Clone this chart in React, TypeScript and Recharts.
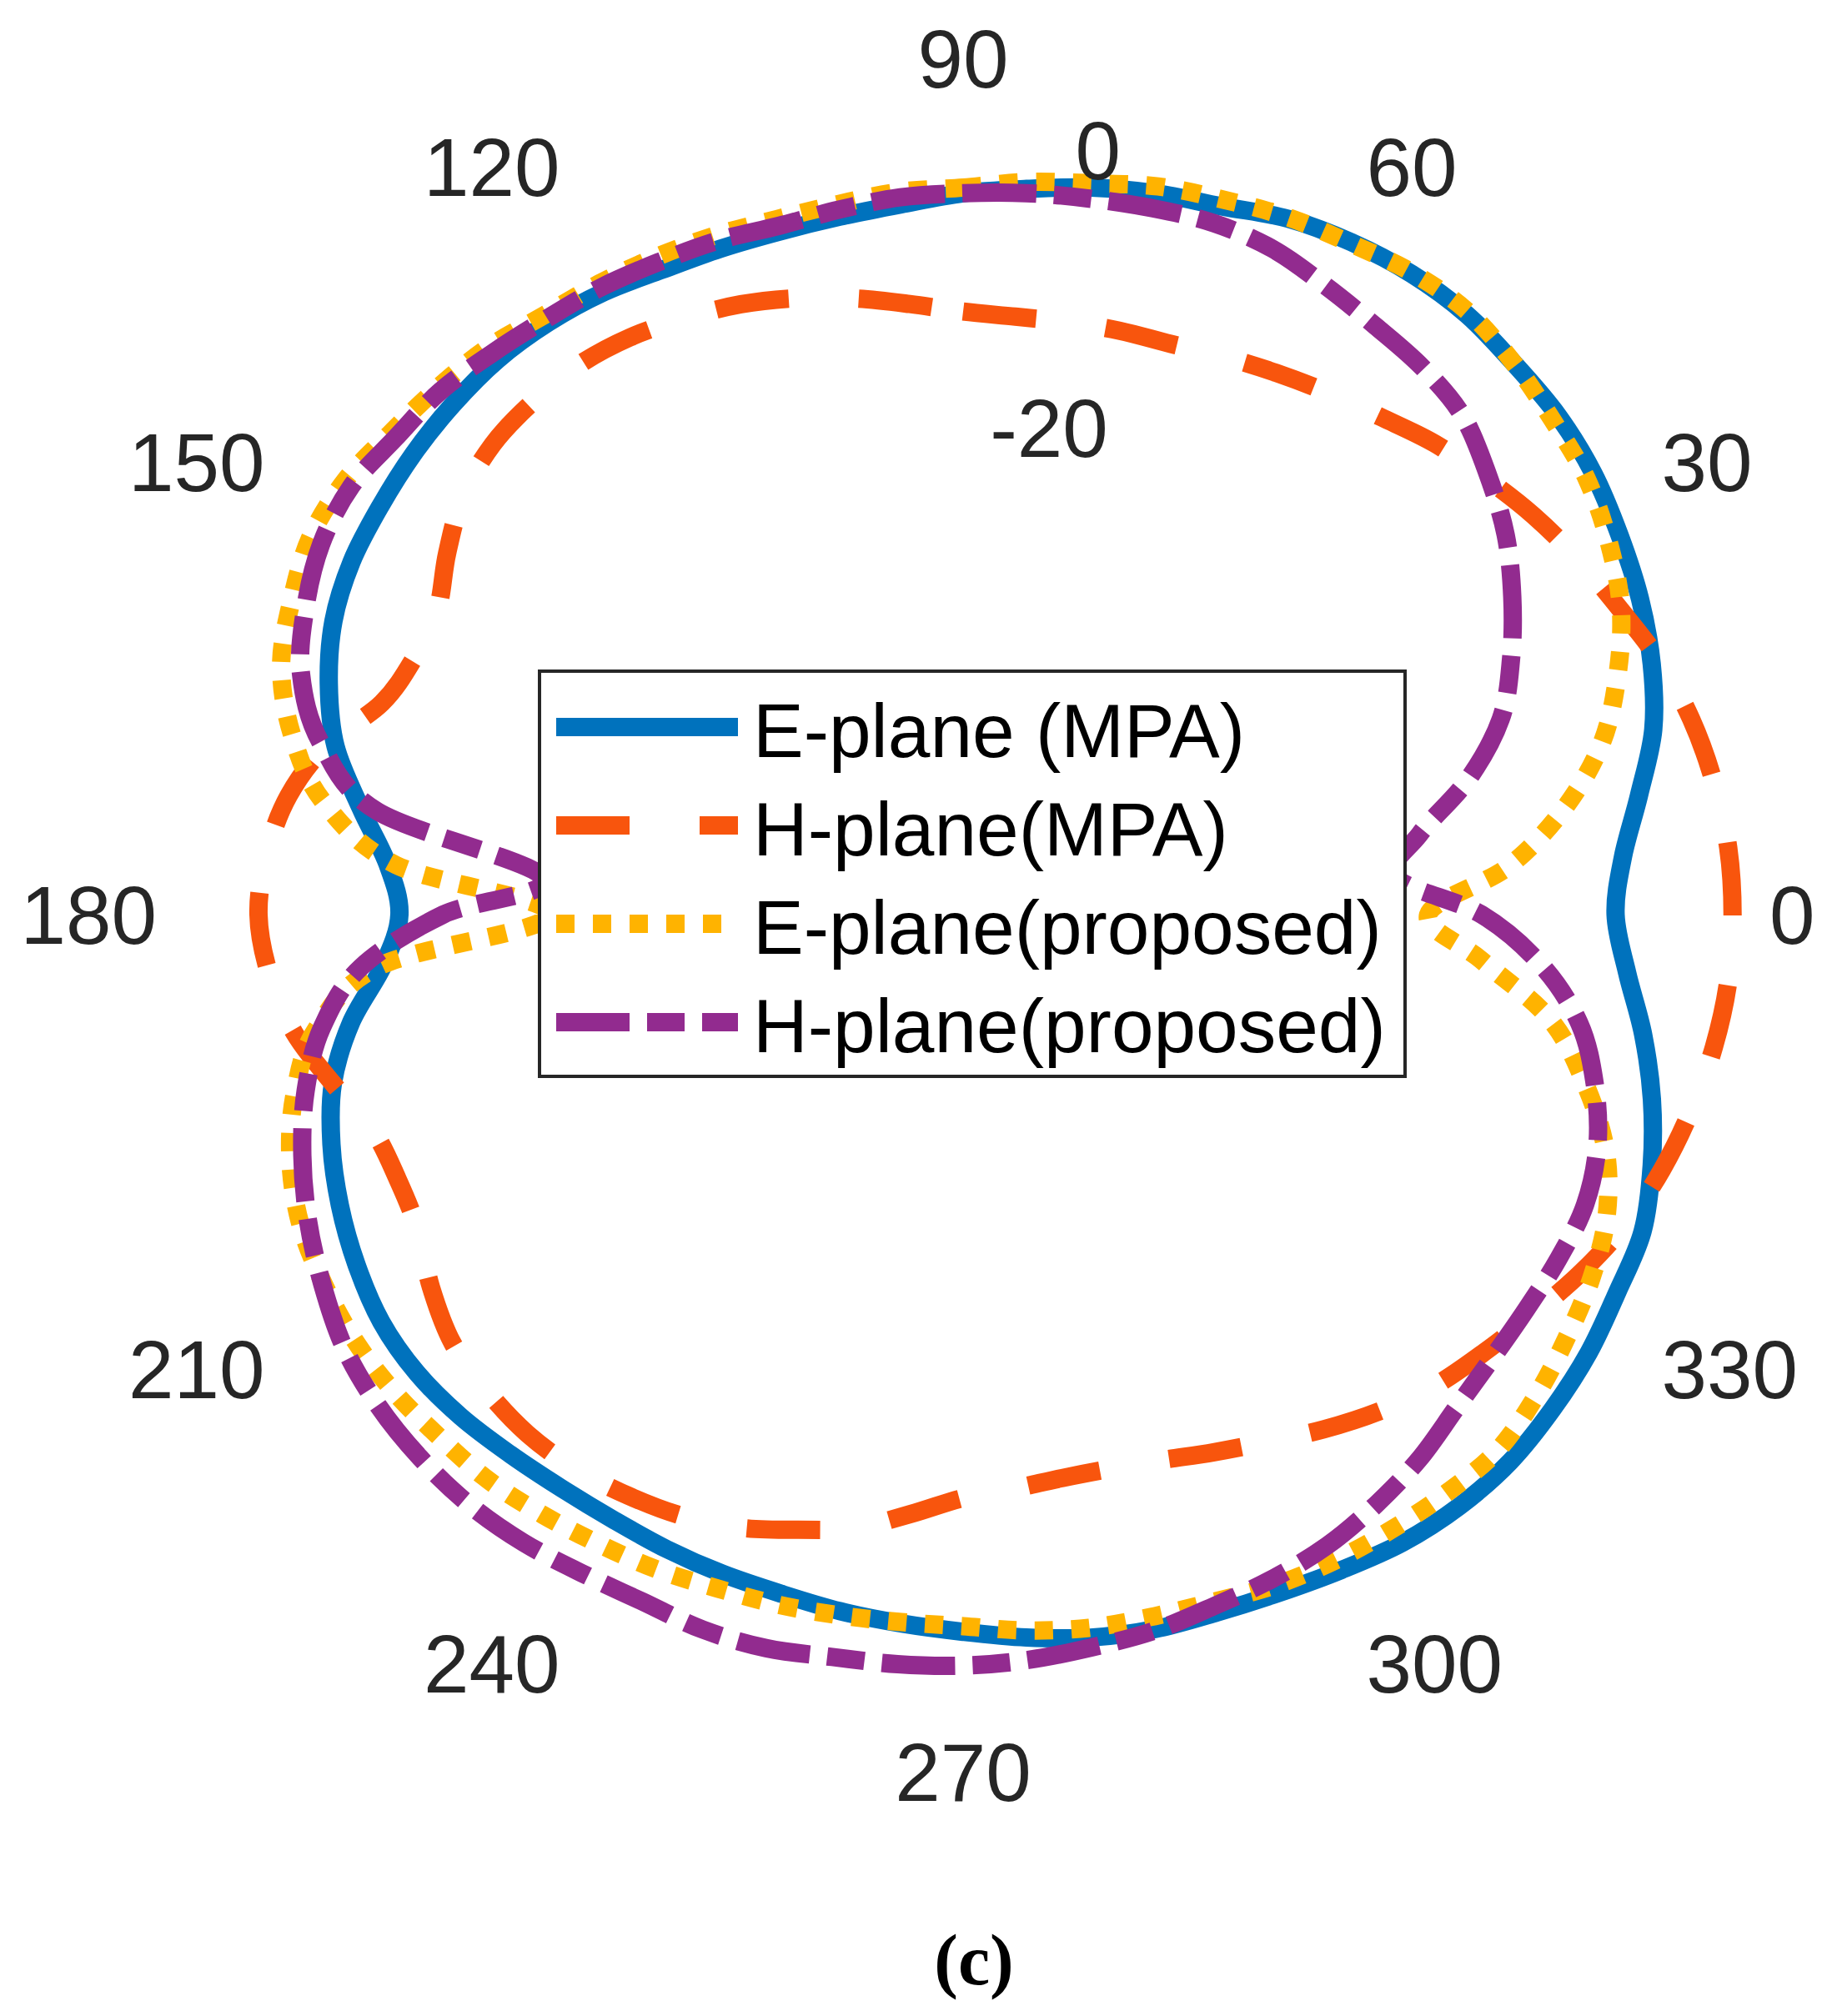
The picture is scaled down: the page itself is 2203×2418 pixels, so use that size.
import React from 'react';
import { RadarChart, Radar, PolarAngleAxis, PolarRadiusAxis, Legend } from 'recharts';

// ---------- data (gain in dB, sampled every 5 degrees, 0 deg = right, counter-clockwise) ----------
const angles = [
  0, 5, 10, 15, 20, 25, 30, 35, 40, 45, 50, 55,
  60, 65, 70, 75, 80, 85, 90, 95, 100, 105, 110, 115,
  120, 125, 130, 135, 140, 145, 150, 155, 160, 165, 170, 175,
  180, 185, 190, 195, 200, 205, 210, 215, 220, 225, 230, 235,
  240, 245, 250, 255, 260, 265, 270, 275, 280, 285, 290, 295,
  300, 305, 310, 315, 320, 325, 330, 335, 340, 345, 350, 355,
];

const ePlaneMPA = [
  -3.7, -3.0, -1.3, 0.7, 2.0, 3.0, 3.8, 4.6, 5.1, 5.3, 5.6, 5.5,
  5.1, 4.5, 3.5, 3.0, 2.4, 1.7, 1.2, 0.6, 0.3, 0.2, 0.3, 0.5,
  1.0, 1.3, 1.4, 1.2, 0.9, 0.5, 0.1, -0.7, -2.1, -3.9, -6.6, -9.0,
  -10.0, -8.7, -5.9, -3.7, -2.3, -1.2, -0.3, 0.4, 0.6, 0.4, 0.0, -0.3,
  -0.4, -0.3, -0.2, -0.1, 0.2, 0.5, 0.9, 1.5, 2.1, 2.5, 2.7, 3.1,
  3.7, 4.4, 4.8, 4.9, 4.6, 4.2, 3.6, 3.2, 2.0, 0.6, -1.0, -2.7,
];

const hPlaneMPA = [
  4.6, 4.5, 4.1, 3.5, 2.6, 1.4, 0.4, -0.6, -1.7, -2.7, -3.9, -4.8,
  -5.6, -6.3, -6.9, -7.1, -7.3, -7.4, -7.2, -6.5, -5.6, -4.7, -3.9, -3.3,
  -2.7, -2.4, -2.5, -2.8, -3.7, -5.3, -6.9, -7.0, -6.1, -3.3, -1.4, -0.4,
  0.0, -0.6, -1.8, -3.7, -5.4, -5.7, -5.3, -3.9, -2.7, -2.2, -1.9, -2.0,
  -2.4, -2.9, -3.7, -4.8, -5.8, -7.3, -8.6, -9.1, -9.4, -9.3, -8.8, -7.9,
  -6.8, -5.4, -4.0, -2.7, -1.7, -0.6, 0.7, 1.9, 2.8, 3.5, 4.1, 4.5,
];

const ePlaneProposed = [
  -17.0, -11.2, -6.7, -3.1, -0.6, 1.5, 2.9, 4.0, 4.6, 5.3, 5.8, 5.6,
  5.0, 4.6, 4.0, 3.5, 2.7, 2.2, 1.6, 1.5, 1.2, 1.1, 1.3, 1.5,
  1.7, 1.9, 2.5, 2.8, 3.1, 3.6, 3.5, 2.6, 1.5, -0.7, -3.9, -9.6,
  -20.7, -8.5, -3.4, -0.9, 0.8, 1.9, 2.4, 2.7, 2.7, 2.5, 2.4, 2.0,
  1.6, 1.3, 0.9, 0.7, 0.5, 0.4, 0.5, 1.0, 1.4, 1.6, 1.9, 2.5,
  2.9, 3.2, 3.5, 3.7, 3.1, 2.3, 1.5, 0.4, -1.5, -4.4, -7.8, -13.1,
];

const hPlaneProposed = [
  -13.2, -19.2, -17.1, -12.9, -9.4, -7.1, -5.0, -3.0, -1.4, 0.1, 0.7, 1.0,
  1.5, 2.1, 2.2, 1.9, 1.6, 1.4, 1.2, 1.1, 0.8, 0.6, 0.9, 1.1,
  1.4, 1.6, 2.0, 2.5, 2.6, 3.0, 2.6, 1.5, 0.0, -2.8, -7.8, -20.1,
  -13.1, -7.1, -3.8, -1.7, -0.1, 1.3, 2.5, 3.6, 4.2, 4.5, 4.6, 4.4,
  4.0, 3.8, 4.0, 3.9, 3.5, 3.4, 3.3, 3.1, 2.8, 2.6, 2.2, 2.0,
  1.7, 1.1, 0.4, -0.5, -1.0, -1.2, -1.2, -1.3, -2.1, -3.6, -5.6, -8.8,
];

const angleTickValues = [0, 30, 60, 90, 120, 150, 180, 210, 240, 270, 300, 330];
const radiusTickValues = [-20, 0];
const radiusDomain: [number, number] = [-50, 10];
const seriesNames = ['E-plane (MPA)', 'H-plane(MPA)', 'E-plane(proposed)', 'H-plane(proposed)'];
const caption = '(c)';

// ---------- layout / style ----------
const W = 2203;
const H = 2418;
const CX = 1155;
const CY = 1097;
const OUTER_R = 1014;
const LABEL_R = 967;
const FONT = "'Liberation Sans', Arial, Helvetica, sans-serif";

const SERIES = [
  { key: 'eMPA', name: seriesNames[0], color: '#0072BD', dash: undefined as string | undefined },
  { key: 'hMPA', name: seriesNames[1], color: '#F8550D', dash: '88 84' },
  { key: 'eProp', name: seriesNames[2], color: '#FFB300', dash: '22 22' },
  { key: 'hProp', name: seriesNames[3], color: '#922B8F', dash: '88 21 45 21' },
];

// Recharts radar runs clockwise from the top; build the table in that order.
const rows = angles.map((_, k) => {
  const a = (90 - 5 * k + 360 * 2) % 360;
  const i = angles.indexOf(a);
  return {
    angle: a,
    eMPA: ePlaneMPA[i],
    hMPA: hPlaneMPA[i],
    eProp: ePlaneProposed[i],
    hProp: hPlaneProposed[i],
  };
});

function closedSmoothPath(pts: { x: number; y: number }[]) {
  const n = pts.length;
  if (!n) return '';
  let d = `M${pts[0].x},${pts[0].y}`;
  for (let i = 0; i < n; i++) {
    const p0 = pts[(i - 1 + n) % n];
    const p1 = pts[i];
    const p2 = pts[(i + 1) % n];
    const p3 = pts[(i + 2) % n];
    const c1x = p1.x + (p2.x - p0.x) / 6;
    const c1y = p1.y + (p2.y - p0.y) / 6;
    const c2x = p2.x - (p3.x - p1.x) / 6;
    const c2y = p2.y - (p3.y - p1.y) / 6;
    d += ` C${c1x},${c1y} ${c2x},${c2y} ${p2.x},${p2.y}`;
  }
  return d + ' Z';
}

const makeShape = (color: string, dash?: string) => (props: any) => (
  <path
    d={closedSmoothPath(props.points || [])}
    fill="none"
    stroke={color}
    strokeWidth={22}
    strokeDasharray={dash}
    strokeLinecap="butt"
    strokeLinejoin="round"
  />
);

const AngleTick = (props: any) => {
  const v = Number(props?.payload?.value);
  if (!angleTickValues.includes(v)) return <g />;
  const rad = (v * Math.PI) / 180;
  const c = Math.cos(rad);
  const s = Math.sin(rad);
  const ax = CX + LABEL_R * c;
  const ay = CY - LABEL_R * s;
  const anchor = c > 0.01 ? 'start' : c < -0.01 ? 'end' : 'middle';
  let by: number;
  if (s > 0.01) by = ay - 25;
  else if (s < -0.01) by = ay + 96;
  else by = ay + 35;
  return (
    <text x={ax} y={by} textAnchor={anchor} fontSize={98} fontFamily={FONT} fill="#262626">
      {String(v)}
    </text>
  );
};

const RadiusTick = (props: any) => {
  const v = Number(props?.payload?.value);
  if (!radiusTickValues.includes(v)) return <g />;
  return (
    <text x={props.x + 15} y={props.y - 85 + 35} textAnchor="middle" fontSize={98} fontFamily={FONT} fill="#262626">
      {String(v)}
    </text>
  );
};

const LegendBox = () => (
  <div
    style={{
      width: 1042,
      height: 490,
      boxSizing: 'border-box',
      border: '4px solid #262626',
      background: '#ffffff',
      position: 'relative',
    }}
  >
    {SERIES.map((s, i) => {
      const centerY = 65 + 118 * i;
      return (
        <React.Fragment key={s.key}>
          <svg
            width={218}
            height={22}
            style={{ position: 'absolute', left: 18, top: centerY - 11 }}
          >
            <line x1={0} y1={11} x2={218} y2={11} stroke={s.color} strokeWidth={22} strokeDasharray={s.dash} />
          </svg>
          <div
            style={{
              position: 'absolute',
              left: 254,
              top: centerY - 41,
              fontFamily: FONT,
              fontSize: 91,
              lineHeight: '91px',
              color: '#000',
              whiteSpace: 'nowrap',
            }}
          >
            {s.name}
          </div>
        </React.Fragment>
      );
    })}
  </div>
);

export default function App() {
  return (
    <div style={{ position: 'absolute', left: 0, top: 0, width: W, height: H, background: '#ffffff' }}>
      <RadarChart
        width={W}
        height={H}
        data={rows}
        cx={CX}
        cy={CY}
        innerRadius={0}
        outerRadius={OUTER_R}
        startAngle={90}
        endAngle={-270}
        margin={{ top: 0, right: 0, bottom: 0, left: 0 }}
      >
        <PolarAngleAxis dataKey="angle" tick={AngleTick} tickLine={false} axisLine={false} />
        <PolarRadiusAxis
          angle={80}
          domain={radiusDomain}
          tickCount={7}
          tick={RadiusTick}
          tickLine={false}
          axisLine={false}
        />
        {SERIES.map((s) => (
          <Radar
            key={s.key}
            name={s.name}
            dataKey={s.key}
            stroke={s.color}
            strokeWidth={22}
            strokeDasharray={s.dash}
            fill="none"
            fillOpacity={0}
            dot={false}
            isAnimationActive={false}
            shape={makeShape(s.color, s.dash)}
          />
        ))}
        <Legend
          layout="vertical"
          align="center"
          verticalAlign="middle"
          wrapperStyle={{ left: 645, top: 803, width: 1042, height: 490 }}
          content={() => <LegendBox />}
        />
      </RadarChart>
      <div
        style={{
          position: 'absolute',
          left: 968,
          top: 2308,
          width: 400,
          textAlign: 'center',
          fontFamily: "'Liberation Serif', 'Times New Roman', serif",
          fontWeight: 'bold',
          fontSize: 86,
          lineHeight: '86px',
          color: '#000',
        }}
      >
        {caption}
      </div>
    </div>
  );
}
